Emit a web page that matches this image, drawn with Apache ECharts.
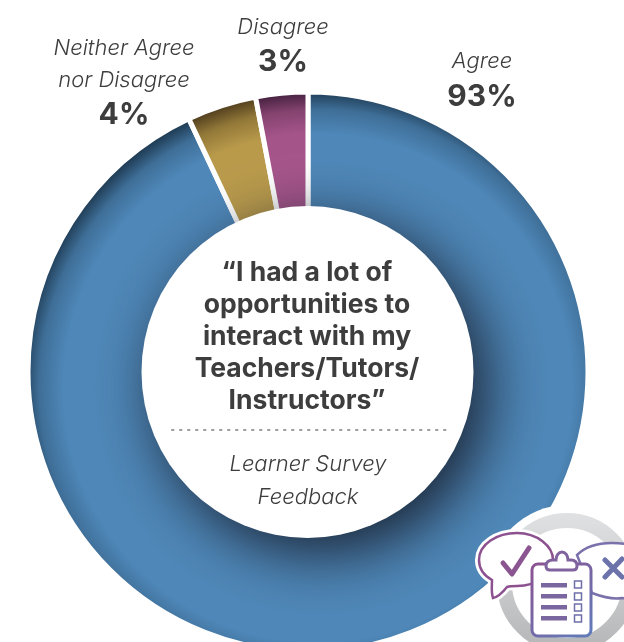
<!DOCTYPE html>
<html>
<head>
<meta charset="utf-8">
<style>html,body{margin:0;padding:0;background:#fff}#chart{width:624px;height:642px}</style>
<script src="https://cdn.jsdelivr.net/npm/echarts@6/dist/echarts.min.js"></script>
</head>
<body>
<div id="chart"></div>
<script>
// Survey responses, in percent
const categories = ['Agree', 'Neither Agree\nnor Disagree', 'Disagree'];
const percentages = [93, 4, 3];

// Slice tones: body colour, mid shade and darkened rim colour
const bodyColors = ['#4e87b8', '#b99a4b', '#a5548a'];
const midColors = ['#3f6f98', '#927838', '#84436f'];
const rimColors = ['#203d56', '#54411f', '#45213f'];

const quote = '“I had a lot of\nopportunities to\ninteract with my\nTeachers/Tutors/\nInstructors”';
const source = 'Learner Survey\nFeedback';

const FONT = 'Inter, "Open Sans", sans-serif';
const INK = '#3d3d3d';
const CX = 308, CY = 372;

// Where each response label sits above the ring
const labelSpots = [
  { x: 482, y: 80.5 },
  { x: 124, y: 83 },
  { x: 283, y: 46 }
];

// Rim shading: gradient centre pushed down and right so the top-left edge is darkest
function rimGradient(i) {
  return {
    type: 'radial', x: CX + 10, y: CY + 16, r: 296, global: true,
    colorStops: [
      { offset: 0, color: bodyColors[i] },
      { offset: 0.86, color: bodyColors[i] },
      { offset: 0.94, color: midColors[i] },
      { offset: 1, color: rimColors[i] }
    ]
  };
}

// Outline shapes for the survey badge
const badgeOutlines = {
  bubbleLeft: 'M493 598 C491 592 492 586 492 580 C483 575 479 568 479 560 C479 544 497 533 517 533 C537 533 553 546 553 560 C553 574 537 586 517 586 C513 586 510 586 507 587 C503 592 498 597 493 598 Z',
  bubbleRight: 'M577 555 C585 547 598 543 612 543 C640 543 660 555 660 572 C660 590 640 600 622 598 C612 600 600 596 592 593 Z',
  crossMark: 'M605 560 L622 577 M605 577 L622 559',
  checkMark: 'M503 563 L512 574 L529 548',
  clipTab: 'M546 566 C546 562 549 560 553 560 L556 560 C556 555 559 552 562 552 C565 552 568 555 568 560 L571 560 C575 560 577 562 577 566 C577 568 576 570 573 570 L550 570 C547 570 546 568 546 566 Z'
};
Object.keys(badgeOutlines).forEach(name => {
  echarts.graphic.registerShape(name, echarts.graphic.extendPath(badgeOutlines[name]));
});

const iconStroke = {
  type: 'linear', x: 0, y: 0, x2: 1, y2: 1,
  colorStops: [{ offset: 0, color: '#8d5190' }, { offset: 1, color: '#5f7dba' }]
};
const listLines = [583, 594, 605, 616];
const listBoxes = [581, 593, 604, 615];

const iconParts = [
  { type: 'circle', shape: { cx: 567, cy: 583, r: 78 }, style: { fill: '#fff' } },
  {
    type: 'circle', shape: { cx: 567, cy: 583, r: 62.5 },
    style: {
      fill: '#fff', lineWidth: 15,
      stroke: { type: 'linear', x: 0, y: 0, x2: 0, y2: 1, colorStops: [{ offset: 0, color: '#e0e1e3' }, { offset: 1, color: '#b4b5b7' }] }
    }
  },
  { type: 'bubbleRight', style: { fill: '#fff', stroke: '#7b72ac', lineWidth: 2.5 } },
  { type: 'crossMark', style: { fill: 'none', stroke: '#6c73aa', lineWidth: 5, lineCap: 'round' } },
  { type: 'bubbleLeft', style: { fill: '#fff', stroke: '#fff', lineWidth: 8 } },
  { type: 'bubbleLeft', style: { fill: '#fff', stroke: '#8d5190', lineWidth: 2.5 } },
  { type: 'checkMark', style: { fill: 'none', stroke: '#8a5590', lineWidth: 5, lineCap: 'round', lineJoin: 'round' } },
  { type: 'rect', shape: { x: 532, y: 564, width: 59, height: 72, r: 6 }, style: { fill: '#fff', stroke: iconStroke, lineWidth: 3 } },
  { type: 'clipTab', style: { fill: '#fff', stroke: '#80629f', lineWidth: 3 } }
];
listLines.forEach(y => iconParts.push({
  type: 'rect', shape: { x: 541, y: y, width: 26, height: 4.5 }, style: { fill: '#7a679f' }
}));
listBoxes.forEach(y => iconParts.push({
  type: 'rect', shape: { x: 574.5, y: y, width: 7, height: 7 }, style: { fill: '#fff', stroke: '#6e6fa8', lineWidth: 1.5 }
}));

const centerParts = [
  {
    type: 'circle', shape: { cx: CX - 0.5, cy: CY, r: 166 },
    style: { fill: '#fff', shadowBlur: 60, shadowColor: 'rgba(22,30,44,0.95)', shadowOffsetX: 14, shadowOffsetY: 16 }
  },
  {
    type: 'text', x: 307, y: 337,
    style: { text: quote, fill: INK, font: '700 26.5px ' + FONT, lineHeight: 32, align: 'center', verticalAlign: 'middle' }
  },
  {
    type: 'line', shape: { x1: 172, y1: 430, x2: 446, y2: 430 },
    style: { stroke: '#9c9c9c', lineWidth: 2, lineDash: [1.5, 6.5], lineCap: 'round' }
  },
  {
    type: 'text', x: 308, y: 480.5,
    style: { text: source, fill: INK, font: 'italic 300 22px ' + FONT, lineHeight: 33, align: 'center', verticalAlign: 'middle' }
  }
];

const chart = echarts.init(document.getElementById('chart'), null, { renderer: 'canvas' });
chart.setOption({
  animation: false,
  backgroundColor: '#fff',
  series: [{
    type: 'pie',
    center: [CX, CY],
    radius: [150, 280],
    startAngle: 90,
    clockwise: true,
    data: categories.map((name, i) => ({
      name, value: percentages[i],
      itemStyle: { color: rimGradient(i), borderColor: '#fff', borderWidth: 5 }
    })),
    labelLine: { show: false },
    label: {
      show: true,
      position: 'outside',
      overflow: 'none',
      formatter: p => `{name|${p.name}}\n{value|${p.value}%}`,
      rich: {
        name: { fontFamily: FONT, fontStyle: 'italic', fontWeight: 300, fontSize: 22, color: INK, lineHeight: 32, align: 'center' },
        value: { fontFamily: FONT, fontWeight: 700, fontSize: 30, color: INK, lineHeight: 38, align: 'center' }
      }
    },
    labelLayout: p => ({ x: labelSpots[p.dataIndex].x, y: labelSpots[p.dataIndex].y, align: 'center', verticalAlign: 'middle' })
  }],
  graphic: { elements: centerParts.concat(iconParts).map(el => Object.assign({ z: 10, silent: true }, el)) }
});
</script>
</body>
</html>
